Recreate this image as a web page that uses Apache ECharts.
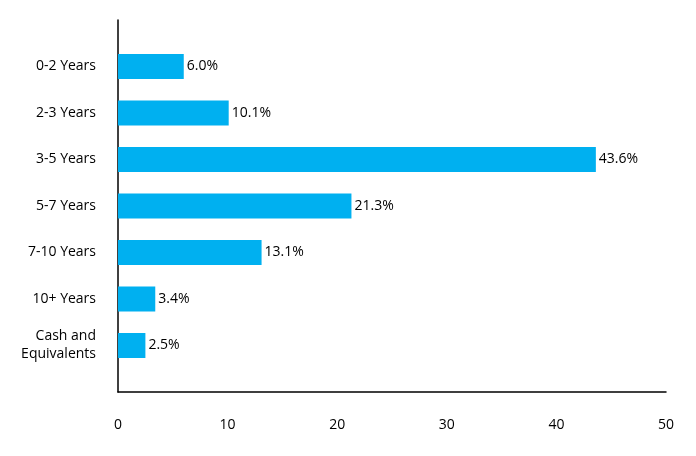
<!DOCTYPE html>
<html>
<head>
<meta charset="utf-8">
<script src="https://cdn.jsdelivr.net/npm/echarts@6/dist/echarts.min.js"></script>
<style>
body{margin:0;}
#chart{width:696px;height:456px;}
</style>
</head>
<body>
<div id="chart"></div>
<script>
var categories = ['0-2 Years', '2-3 Years', '3-5 Years', '5-7 Years', '7-10 Years', '10+ Years', 'Cash and\nEquivalents'];
var values = [6.0, 10.1, 43.6, 21.3, 13.1, 3.4, 2.5];

// pad with empty slots so the axis line extends half a band beyond the bars
var axisCats = [''].concat(categories, ['']);
var axisVals = [null].concat(values, [null]);

var chart = echarts.init(document.getElementById('chart'));
chart.setOption({
    animation: false,
    textStyle: {fontFamily: 'Open Sans', color: '#000'},
    grid: {left: 118, right: 30, top: 20, bottom: 64},
    xAxis: {
        type: 'value', min: 0, max: 50, interval: 10,
        axisLine: {show: true, lineStyle: {color: '#000', width: 1.5}},
        axisTick: {show: false},
        splitLine: {show: false},
        axisLabel: {color: '#000', fontSize: 14, margin: 26}
    },
    yAxis: {
        type: 'category', data: axisCats, inverse: true, boundaryGap: false,
        axisLine: {show: true, lineStyle: {color: '#000', width: 1.5}},
        axisTick: {show: false},
        axisLabel: {color: '#000', fontSize: 14, margin: 22, lineHeight: 18, interval: 0}
    },
    series: [{
        type: 'bar', data: axisVals, barWidth: 25,
        itemStyle: {color: '#00B0F0'},
        label: {show: true, position: 'right', distance: 3, color: '#000', fontSize: 14,
            formatter: function (p) { return p.value.toFixed(1) + '%'; }}
    }]
});
</script>
</body>
</html>
